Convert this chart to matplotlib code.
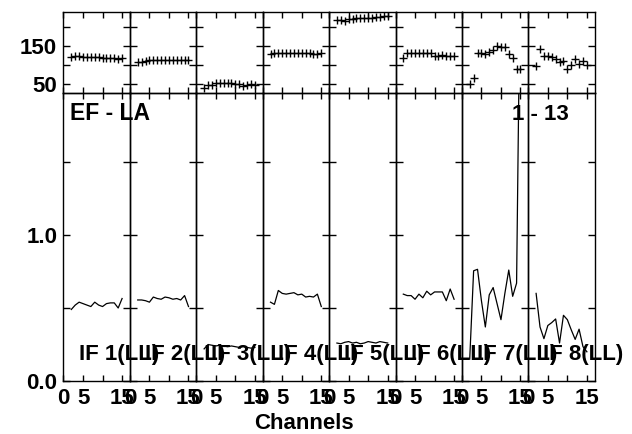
import numpy as np
import matplotlib.pyplot as plt

plt.rcParams['font.family'] = ['Liberation Sans', 'DejaVu Sans']
plt.rcParams['font.weight'] = 'bold'
plt.rcParams['font.size'] = 16

# channels 2..15 for every IF
channels = np.arange(2, 16)
if_labels = ['IF 1(LL)', 'IF 2(LL)', 'IF 3(LL)', 'IF 4(LL)',
             'IF 5(LL)', 'IF 6(LL)', 'IF 7(LL)', 'IF 8(LL)']

# phase (deg), top row
phase1 = [121, 122, 122, 121, 121, 121, 120, 120, 119, 119, 119, 118, 116, 118]
phase2 = [106, 108, 110, 112, 113, 113, 113, 113, 113, 113, 113, 113, 113, 113]
phase3 = [37, 46, 46, 52, 51, 51, 52, 51, 50, 50, 43, 46, 49, 46]
phase4 = [128, 130, 131, 131, 132, 130, 130, 130, 130, 130, 130, 129, 129, 130]
phase5 = [218, 219, 217, 222, 222, 223, 224, 223, 225, 225, 227, 228, 229, 230]
phase6 = [117, 131, 130, 130, 130, 130, 130, 130, 124, 124, 125, 124, 124, 124]
phase7 = [49, 64, 130, 130, 128, 135, 138, 150, 146, 146, 128, 117, 90, 90]
phase8 = [97, 141, 122, 122, 121, 114, 107, 110, 90, 98, 114, 102, 109, 99]

# amplitude, bottom row
amp1 = [0.49, 0.52, 0.54, 0.53, 0.52, 0.51, 0.54, 0.52, 0.51, 0.53, 0.535, 0.535, 0.50, 0.565]
amp2 = [0.555, 0.555, 0.55, 0.54, 0.575, 0.565, 0.56, 0.575, 0.57, 0.56, 0.565, 0.555, 0.585, 0.51]
amp3 = [0.22, 0.25, 0.245, 0.24, 0.245, 0.24, 0.235, 0.24, 0.235, 0.23, 0.235, 0.23, 0.225, 0.23]
amp4 = [0.54, 0.525, 0.62, 0.60, 0.595, 0.60, 0.605, 0.59, 0.595, 0.575, 0.58, 0.575, 0.595, 0.51]
amp5 = [0.26, 0.255, 0.265, 0.27, 0.26, 0.265, 0.255, 0.26, 0.27, 0.265, 0.26, 0.27, 0.265, 0.26]
amp6 = [0.595, 0.585, 0.585, 0.56, 0.595, 0.57, 0.615, 0.59, 0.61, 0.61, 0.61, 0.55, 0.63, 0.56]
amp7 = [0.15, 0.755, 0.765, 0.55, 0.37, 0.59, 0.64, 0.53, 0.42, 0.60, 0.76, 0.58, 0.67, 3.0]
amp8 = [0.60, 0.37, 0.29, 0.38, 0.40, 0.425, 0.26, 0.45, 0.42, 0.35, 0.285, 0.355, 0.235, 0.20]

phases = [phase1, phase2, phase3, phase4, phase5, phase6, phase7, phase8]
amps = [amp1, amp2, amp3, amp4, amp5, amp6, amp7, amp8]

W, H = 632, 434
fig = plt.figure(figsize=(W / 100, H / 100), dpi=100)

x0 = 63.5
pw = 66.4
for i in range(8):
    left = (x0 + i * pw) / W
    axt = fig.add_axes([left, 1 - 93 / H, pw / W, 81 / H])
    axb = fig.add_axes([left, 1 - 381 / H, pw / W, 288 / H])
    for ax in (axt, axb):
        ax.patch.set_visible(False)
        for s in ax.spines.values():
            s.set_linewidth(1.0)
        ax.set_xlim(0, 17)
        ax.set_xticks([0, 5, 10, 15])
        ax.tick_params(axis='both', direction='in', top=True, right=True,
                       width=1.0, labelsize=16)
        ax.tick_params(axis='x', length=4, pad=5)
        ax.tick_params(axis='y', length=5, pad=4.5)

    axt.plot(channels, phases[i], '+', color='black', ms=6, mew=1.0)
    axt.set_ylim(25, 240)
    axt.set_yticks([50, 100, 150, 200])
    axt.set_yticklabels(['50', '', '150', ''])
    axt.tick_params(labelbottom=False)

    axb.plot(channels, amps[i], '-', color='black', lw=0.9)
    axb.set_ylim(0, 288 / 146)
    axb.set_yticks([0, 0.5, 1.0, 1.5])
    axb.set_yticklabels(['0.0', '', '1.0', ''])
    axb.set_xticklabels(['0', '5', '', '15'])
    axb.text(3.85, 0.144, if_labels[i], fontsize=16, fontweight='bold',
             ha='left', va='baseline', clip_on=False, zorder=5)

    if i > 0:
        axt.tick_params(labelleft=False)
        axb.tick_params(labelleft=False)

    if i == 0:
        axb.text(1.7, 1.79, 'EF - LA', fontsize=16.5, fontweight='bold',
                 ha='left', va='baseline')

fig.text(512 / W, 1 - 120 / H, '1 - 13', fontsize=16, fontweight='bold',
         ha='left', va='baseline')
fig.text(303.5 / W, 1 - 429 / H, 'Channels', fontsize=16, fontweight='bold',
         ha='center', va='baseline')

fig.savefig('out.png', dpi=100)
